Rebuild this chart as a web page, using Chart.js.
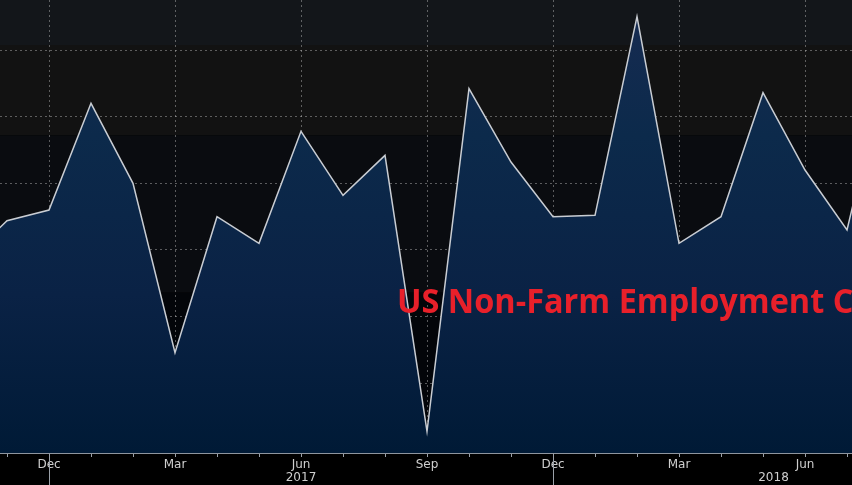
<!DOCTYPE html>
<html>
<head>
<meta charset="utf-8">
<script src="https://cdn.jsdelivr.net/npm/chart.js@4.4.0/dist/chart.umd.min.js"></script>
<style>
    html, body { margin: 0; padding: 0; background: #000; }
    #wrap { width: 852px; height: 485px; position: relative; }
</style>
</head>
<body>
<div id="wrap"><canvas id="nfpChart" width="852" height="485"></canvas></div>
<script>
// monthly points, Oct 2016 .. Aug 2018 (x = month index)
const months = ['Oct', 'Nov', 'Dec', 'Jan', 'Feb', 'Mar', 'Apr', 'May', 'Jun', 'Jul', 'Aug', 'Sep',
                'Oct', 'Nov', 'Dec', 'Jan', 'Feb', 'Mar', 'Apr', 'May', 'Jun', 'Jul', 'Aug'];
const nfp = [141, 172, 180, 260, 200, 73, 175, 155, 239, 191, 221, 14,
             271, 216, 175, 176, 325, 155, 175, 268, 210, 165, 297];
const quarterLabels = ['Dec', 'Mar', 'Jun', 'Sep'];
const yearLabels = ['2017', '2018'];
const yearPositions = [8, 19.25];
const yearBreaks = [2, 14];
const yTicks = [0, 50, 100, 150, 200, 250, 300];
const title = 'US Non-Farm Employment Change';

const points = nfp.map((v, i) => ({ x: i, y: v }));

// background bands, year separators and the overlay title
const bandsPlugin = {
    id: 'bands',
    beforeDraw(chart) {
        const { ctx, chartArea, scales } = chart;
        const y = scales.y;
        const bands = [
            [303.75, 400, '#13161a'],
            [236, 303.75, '#121212'],
            [118, 236, '#0a0c10'],
            [-50, 118, '#030509']
        ];
        ctx.save();
        ctx.fillStyle = '#000';
        ctx.fillRect(0, 0, chart.width, chart.height);
        bands.forEach(b => {
            const top = Math.max(chartArea.top, y.getPixelForValue(b[1]));
            const bot = Math.min(chartArea.bottom, y.getPixelForValue(b[0]));
            ctx.fillStyle = b[2];
            ctx.fillRect(chartArea.left, top, chartArea.right - chartArea.left, bot - top);
        });
        ctx.restore();
    },
    afterDraw(chart) {
        const { ctx, chartArea, scales } = chart;
        const x = scales.x;
        ctx.save();
        ctx.strokeStyle = '#9aa0a8';
        ctx.lineWidth = 1;
        yearBreaks.forEach(v => {
            const px = Math.round(x.getPixelForValue(v)) + 0.5;
            ctx.beginPath();
            ctx.moveTo(px, chartArea.bottom);
            ctx.lineTo(px, chart.height);
            ctx.stroke();
        });
        ctx.fillStyle = '#cfcfcf';
        ctx.font = '12px "DejaVu Sans"';
        ctx.textAlign = 'center';
        ctx.textBaseline = 'middle';
        yearLabels.forEach((t, i) => {
            ctx.fillText(t, x.getPixelForValue(yearPositions[i]), chartArea.bottom + 25);
        });
        // title is a bit condensed in the original
        ctx.translate(397, 313);
        ctx.scale(0.955, 1);
        ctx.fillStyle = '#e8202a';
        ctx.font = 'bold 34px "Open Sans"';
        ctx.textAlign = 'left';
        ctx.textBaseline = 'alphabetic';
        ctx.fillText(title, 0, 0);
        ctx.restore();
    }
};

const ctx = document.getElementById('nfpChart').getContext('2d');
new Chart(ctx, {
    type: 'line',
    data: {
        datasets: [{
            data: points,
            borderColor: '#c9cdd3',
            borderWidth: 1.5,
            pointRadius: 0,
            tension: 0,
            fill: 'start',
            backgroundColor: function(context) {
                const area = context.chart.chartArea;
                if (!area) return '#0b2748';
                const g = context.chart.ctx.createLinearGradient(0, area.top, 0, area.bottom);
                g.addColorStop(0, '#172b52');
                g.addColorStop(0.3, '#0c2a4b');
                g.addColorStop(0.65, '#0a2245');
                g.addColorStop(1, '#001a36');
                return g;
            }
        }]
    },
    options: {
        responsive: false,
        animation: false,
        layout: { padding: 0 },
        plugins: {
            legend: { display: false },
            tooltip: { enabled: false }
        },
        scales: {
            x: {
                type: 'linear',
                min: 0.8333,
                max: 21.119,
                z: 1,
                afterBuildTicks: function(scale) {
                    scale.ticks = months.map((m, i) => ({ value: i })).filter(t => t.value >= 1 && t.value <= 21);
                },
                afterFit: function(scale) {
                    scale.height = 32;
                },
                ticks: {
                    autoSkip: false,
                    maxRotation: 0,
                    padding: 1,
                    color: '#cfcfcf',
                    font: { family: 'DejaVu Sans', size: 12 },
                    callback: function(value) {
                        const m = months[value];
                        return quarterLabels.includes(m) ? m : '';
                    }
                },
                grid: {
                    color: function(c) {
                        const m = months[c.tick && c.tick.value];
                        return quarterLabels.includes(m) ? 'rgba(190,190,190,0.45)' : 'rgba(0,0,0,0)';
                    },
                    lineWidth: 1,
                    tickColor: '#9aa0a8',
                    tickLength: 4,
                    tickBorderDash: [1, 0]
                },
                border: {
                    display: true,
                    color: '#8e959e',
                    width: 2,
                    dash: [2, 3]
                }
            },
            y: {
                min: -2.25,
                max: 337.5,
                z: 1,
                afterBuildTicks: function(scale) {
                    scale.ticks = yTicks.map(v => ({ value: v }));
                },
                ticks: { display: false },
                grid: {
                    color: 'rgba(190,190,190,0.45)',
                    lineWidth: 1,
                    drawTicks: false
                },
                border: { display: false, dash: [2, 3] }
            }
        }
    },
    plugins: [bandsPlugin]
});
</script>
</body>
</html>
